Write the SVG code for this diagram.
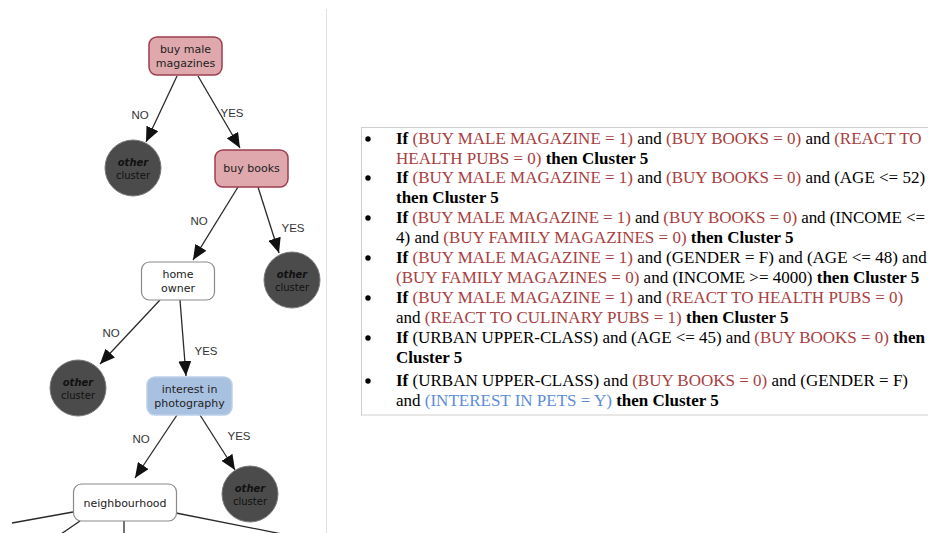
<svg xmlns="http://www.w3.org/2000/svg" width="928" height="533" viewBox="0 0 928 533">
<defs>
<style>
.edge{stroke:#2a2a2a;stroke-width:1.3;fill:none}
.arr{marker-end:url(#ah)}
.lbl{font-family:"Liberation Sans",Arial,sans-serif;font-size:11.5px;fill:#333;text-anchor:middle}
.nt{font-family:"DejaVu Sans",Verdana,sans-serif;font-size:11px;fill:#222;text-anchor:middle}
.lt{font-family:"DejaVu Sans",Verdana,sans-serif;font-size:10px;fill:#111;text-anchor:middle}
.oth{font-weight:bold;font-style:italic}
.pink{fill:#dea8ad;stroke:#9e3e50;stroke-width:1.5}
.blue{fill:#a9c1e1;stroke:#bccfe8;stroke-width:1.5}
.white{fill:#fff;stroke:#8a8a8a;stroke-width:1.2}
.leaf{fill:#4b4b4b;stroke:#7a7a7a;stroke-width:1}
.rule{font-family:"Liberation Serif","Times New Roman",serif;font-size:17px;fill:#000}
.r{fill:#a8403e}
.bl{fill:#5b8dd6}
.b{font-weight:bold}
</style>
<marker id="ah" markerUnits="userSpaceOnUse" markerWidth="15" markerHeight="13" refX="15" refY="6.5" orient="auto">
<path d="M0,0 L15,6.5 L0,13 z" fill="#111"/>
</marker>
</defs>
<rect x="0" y="0" width="928" height="533" fill="#fff"/>
<line x1="326.5" y1="9" x2="326.5" y2="533" stroke="#e2e2e2" stroke-width="1"/>

<g id="connectors">
<line class="edge arr" x1="177" y1="76" x2="146" y2="142"/>
<line class="edge arr" x1="198" y1="76" x2="240" y2="148"/>
<line class="edge arr" x1="238" y1="187" x2="193" y2="260"/>
<line class="edge arr" x1="258" y1="187" x2="279" y2="253"/>
<line class="edge arr" x1="160" y1="300" x2="100" y2="364"/>
<line class="edge arr" x1="180" y1="300" x2="186" y2="376"/>
<line class="edge arr" x1="177" y1="415" x2="135" y2="478"/>
<line class="edge arr" x1="200" y1="415" x2="235" y2="470"/>
<line class="edge" x1="73" y1="512" x2="12" y2="523"/>
<line class="edge" x1="80" y1="521" x2="61" y2="534"/>
<line class="edge" x1="124" y1="521" x2="124" y2="534"/>
<line class="edge" x1="176" y1="513" x2="282" y2="534"/>
<text class="lbl" x="140" y="119">NO</text>
<text class="lbl" x="232" y="117">YES</text>
<text class="lbl" x="199" y="225">NO</text>
<text class="lbl" x="293" y="232">YES</text>
<text class="lbl" x="111" y="337">NO</text>
<text class="lbl" x="206" y="355">YES</text>
<text class="lbl" x="141" y="443">NO</text>
<text class="lbl" x="239" y="440">YES</text>
</g>

<g id="n-buy-male">
<rect class="pink" x="149" y="37" width="73" height="38" rx="8"/>
<text class="nt" x="185.5" y="53">buy male</text>
<text class="nt" x="185.5" y="67">magazines</text>
</g>
<g id="n-other1">
<circle class="leaf" cx="133" cy="168" r="28"/>
<text class="lt oth" x="133" y="166">other</text>
<text class="lt" x="133" y="179">cluster</text>
</g>
<g id="n-buy-books">
<rect class="pink" x="215" y="150" width="73" height="37" rx="8"/>
<text class="nt" x="251.5" y="172">buy books</text>
</g>
<g id="n-other2">
<circle class="leaf" cx="292" cy="280" r="28"/>
<text class="lt oth" x="292" y="278">other</text>
<text class="lt" x="292" y="291">cluster</text>
</g>
<g id="n-home-owner">
<rect class="white" x="141.5" y="262" width="73" height="38" rx="8"/>
<text class="nt" x="178" y="278">home</text>
<text class="nt" x="178" y="292">owner</text>
</g>
<g id="n-other3">
<circle class="leaf" cx="78" cy="388" r="28"/>
<text class="lt oth" x="78" y="386">other</text>
<text class="lt" x="78" y="399">cluster</text>
</g>
<g id="n-interest">
<rect class="blue" x="147" y="377" width="85" height="38" rx="8"/>
<text class="nt" x="189.5" y="393">interest in</text>
<text class="nt" x="189.5" y="407">photography</text>
</g>
<g id="n-other4">
<circle class="leaf" cx="250" cy="494" r="28"/>
<text class="lt oth" x="250" y="492">other</text>
<text class="lt" x="250" y="505">cluster</text>
</g>
<g id="n-neighbourhood">
<rect class="white" x="73.5" y="484" width="103" height="37" rx="8"/>
<text class="nt" x="125" y="507">neighbourhood</text>
</g>

<g id="rules">
<rect x="361.5" y="127.5" width="580" height="287.5" fill="#fff" stroke="#cfcfcf" stroke-width="1"/>
<circle cx="368" cy="139" r="2.7" fill="#000"/>
<circle cx="368" cy="178" r="2.7" fill="#000"/>
<circle cx="368" cy="218" r="2.7" fill="#000"/>
<circle cx="368" cy="258" r="2.7" fill="#000"/>
<circle cx="368" cy="298" r="2.7" fill="#000"/>
<circle cx="368" cy="338" r="2.7" fill="#000"/>
<circle cx="368" cy="381" r="2.7" fill="#000"/>
<text class="rule" x="396" y="144"><tspan class="b">If</tspan> <tspan class="r">(BUY MALE MAGAZINE = 1)</tspan> and <tspan class="r">(BUY BOOKS = 0)</tspan> and <tspan class="r">(REACT TO</tspan></text>
<text class="rule" x="396" y="163.5"><tspan class="r">HEALTH PUBS = 0)</tspan> <tspan class="b">then Cluster 5</tspan></text>
<text class="rule" x="396" y="183"><tspan class="b">If</tspan> <tspan class="r">(BUY MALE MAGAZINE = 1)</tspan> and <tspan class="r">(BUY BOOKS = 0)</tspan> and (AGE &lt;= 52)</text>
<text class="rule" x="396" y="203"><tspan class="b">then Cluster 5</tspan></text>
<text class="rule" x="396" y="223" textLength="529" lengthAdjust="spacing"><tspan class="b">If</tspan> <tspan class="r">(BUY MALE MAGAZINE = 1)</tspan> and <tspan class="r">(BUY BOOKS = 0)</tspan> and (INCOME &lt;=</text>
<text class="rule" x="396" y="243">4) and <tspan class="r">(BUY FAMILY MAGAZINES = 0)</tspan> <tspan class="b">then Cluster 5</tspan></text>
<text class="rule" x="396" y="263"><tspan class="b">If</tspan> <tspan class="r">(BUY MALE MAGAZINE = 1)</tspan> and (GENDER = F) and (AGE &lt;= 48) and</text>
<text class="rule" x="396" y="283"><tspan class="r">(BUY FAMILY MAGAZINES = 0)</tspan> and (INCOME &gt;= 4000) <tspan class="b">then Cluster 5</tspan></text>
<text class="rule" x="396" y="303"><tspan class="b">If</tspan> <tspan class="r">(BUY MALE MAGAZINE = 1)</tspan> and <tspan class="r">(REACT TO HEALTH PUBS = 0)</tspan></text>
<text class="rule" x="396" y="323">and <tspan class="r">(REACT TO CULINARY PUBS = 1)</tspan> <tspan class="b">then Cluster 5</tspan></text>
<text class="rule" x="396" y="343" textLength="529" lengthAdjust="spacing"><tspan class="b">If</tspan> (URBAN UPPER-CLASS) and (AGE &lt;= 45) and <tspan class="r">(BUY BOOKS = 0)</tspan> <tspan class="b">then</tspan></text>
<text class="rule" x="396" y="363"><tspan class="b">Cluster 5</tspan></text>
<text class="rule" x="396" y="386"><tspan class="b">If</tspan> (URBAN UPPER-CLASS) and <tspan class="r">(BUY BOOKS = 0)</tspan> and (GENDER = F)</text>
<text class="rule" x="396" y="405.5">and <tspan class="bl">(INTEREST IN PETS = Y)</tspan> <tspan class="b">then Cluster 5</tspan></text>
</g>
</svg>
